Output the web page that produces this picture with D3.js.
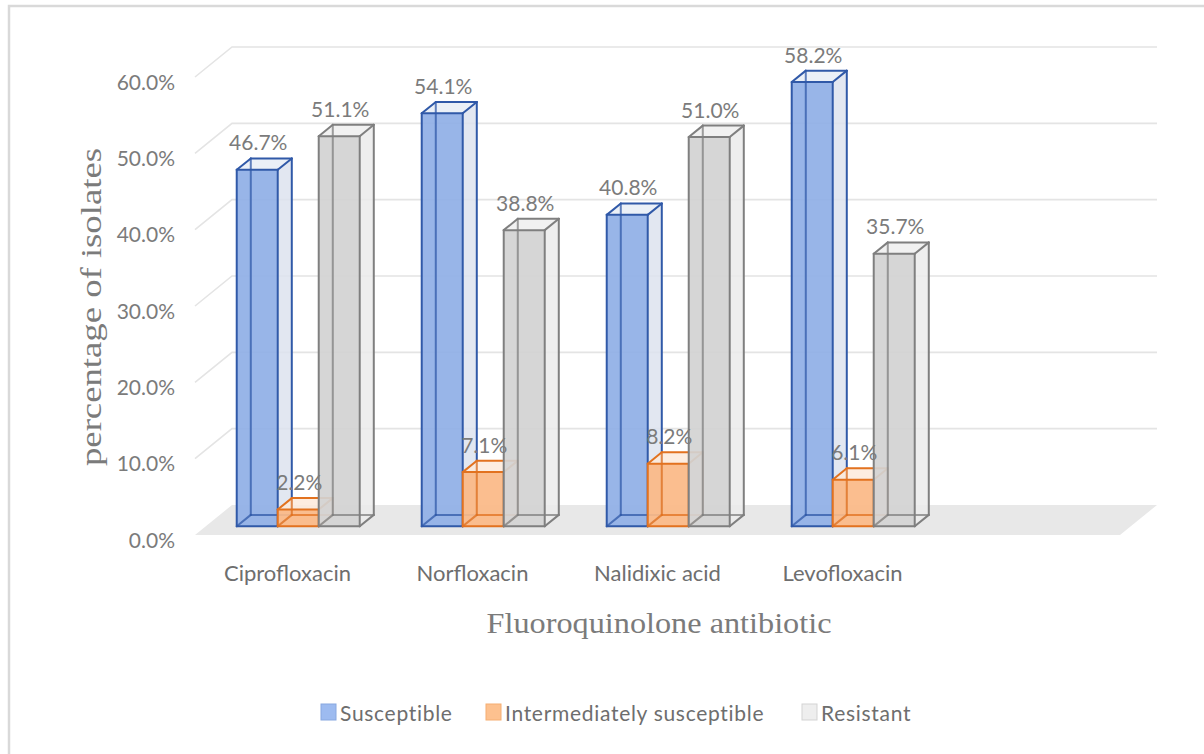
<!DOCTYPE html>
<html><head><meta charset="utf-8">
<script src="https://cdn.jsdelivr.net/npm/d3@7/dist/d3.min.js"></script>
<style>
html,body{margin:0;padding:0;background:#fff;}
svg{display:block;}
</style></head>
<body>
<svg id="chart" width="1204" height="754"></svg>
<script>
const categories = ["Ciprofloxacin", "Norfloxacin", "Nalidixic acid", "Levofloxacin"];
const seriesNames = ["Susceptible", "Intermediately susceptible", "Resistant"];
const susceptible = [46.7, 54.1, 40.8, 58.2];
const intermediate = [2.2, 7.1, 8.2, 6.1];
const resistant = [51.1, 38.8, 51.0, 35.7];
const yTicks = [0, 10, 20, 30, 40, 50, 60];
const yTickLabels = ["0.0%", "10.0%", "20.0%", "30.0%", "40.0%", "50.0%", "60.0%"];

const seriesValues = [susceptible, intermediate, resistant];
const styles = [
  {front:"#8fafe6", side:"#dde3ef", top:"#e8edf6", stroke:"#3059a8", leg:"#9dbbf0", legStroke:"#88a8e0"},
  {front:"#fbb986", side:"#fde3cf", top:"#fdeadb", stroke:"#e2721f", leg:"#fdc18f", legStroke:"#f5ae72"},
  {front:"#d2d2d2", side:"#ebebeb", top:"#efefef", stroke:"#7f7f7f", leg:"#eeeeee", legStroke:"#d3d3d3"}
];

const svg = d3.select("#chart");

// frame
svg.append("rect").attr("x",9).attr("y",6).attr("width",1210).attr("height",760)
  .attr("fill","none").attr("stroke","#d9d9d9").attr("stroke-width",2.5);

// projection
const DX = 37, DY = 30;          // full depth offset
const d0 = 0.29, d1 = 0.67;      // bar depth range
const slots = d3.range(categories.length + 1);
const x = d3.scaleBand().domain(slots).range([195, 1120]).paddingInner(0).paddingOuter(0);
const inner = d3.scaleBand().domain(d3.range(seriesNames.length)).range([31, x.bandwidth() - 31]).padding(0);
const y = d3.scaleLinear().domain([0, 60]).range([535, 77]);
const P = (xf, v, d) => [xf + d * DX, y(v) - d * DY];

const xLeft = x.range()[0], xRight = x.range()[1];

// floor
svg.append("polygon")
  .attr("points", [P(xLeft,0,0), P(xRight,0,0), P(xRight,0,1), P(xLeft,0,1)].map(p=>p.join(",")).join(" "))
  .attr("fill", "#e8e8e8");

// gridlines (side wall + back wall)
const grid = svg.append("g").attr("stroke","#e4e4e4").attr("stroke-width",1.6).attr("fill","none");
yTicks.filter(t => t > 0).forEach(t => {
  const a = P(xLeft, t, 0), b = P(xLeft, t, 1), c = P(xRight, t, 1);
  grid.append("polyline").attr("points", [a,b,c].map(p=>p.join(",")).join(" "));
});

// y tick labels
svg.append("g").selectAll("text").data(yTicks).join("text")
  .attr("x", 175).attr("y", t => y(t) + 4)
  .attr("text-anchor","end").attr("dominant-baseline","central")
  .attr("font-family","Lato").attr("font-size",21).attr("fill","#7b7b7b")
  .text((t,i) => yTickLabels[i]);

// bars
const barsG = svg.append("g");
const labelData = [];
categories.forEach((cat, ci) => {
  seriesValues.forEach((vals, si) => {
    const v = vals[ci];
    const st = styles[si];
    const x0 = x(ci) + inner(si), x1 = x0 + inner.bandwidth();
    const f = { lb:P(x0,0,d0), rb:P(x1,0,d0), rt:P(x1,v,d0), lt:P(x0,v,d0) };
    const b = { lb:P(x0,0,d1), rb:P(x1,0,d1), rt:P(x1,v,d1), lt:P(x0,v,d1) };
    const g = barsG.append("g");
    const poly = (pts, fill, op) => g.append("polygon")
      .attr("points", pts.map(p=>p.join(",")).join(" "))
      .attr("fill", fill).attr("fill-opacity", op).attr("stroke","none");
    poly([f.rb, b.rb, b.rt, f.rt], st.side, 0.85);
    poly([f.lt, f.rt, b.rt, b.lt], st.top, 0.85);
    poly([f.lb, f.rb, f.rt, f.lt], st.front, 0.92);
    const edges = [
      [b.lb,b.rb],[b.lb,b.lt],[f.lb,b.lb],           // hidden
      [b.rb,b.rt],[b.lt,b.rt],[f.rb,b.rb],[f.rt,b.rt],[f.lt,b.lt],
      [f.lb,f.rb],[f.rb,f.rt],[f.rt,f.lt],[f.lt,f.lb]
    ];
    edges.forEach((e, k) => {
      g.append("line").attr("x1",e[0][0]).attr("y1",e[0][1]).attr("x2",e[1][0]).attr("y2",e[1][1])
        .attr("stroke", st.stroke).attr("stroke-width", 2)
        .attr("stroke-opacity", k < 3 ? 0.75 : 1).attr("stroke-linecap","round");
    });
    labelData.push({x:(f.lb[0]+f.rb[0])/2 + 1, y:b.lt[1] - 8, text: v.toFixed(1) + "%"});
  });
});

// value labels
svg.append("g").selectAll("text").data(labelData).join("text")
  .attr("x", d => d.x).attr("y", d => d.y)
  .attr("text-anchor","middle")
  .attr("font-family","Lato").attr("font-size",21).attr("fill","#7b7b7b")
  .text(d => d.text);

// category labels
svg.append("g").selectAll("text").data(categories).join("text")
  .attr("x", (c,i) => x(i) + x.bandwidth()/2).attr("y", 581)
  .attr("text-anchor","middle")
  .attr("font-family","Lato").attr("font-size",22).attr("fill","#6e6e6e")
  .text(c => c);

// axis titles
svg.append("text").attr("x", 659).attr("y", 633).attr("text-anchor","middle")
  .attr("font-family","Liberation Serif").attr("font-size",30).attr("fill","#7b7b7b")
  .attr("textLength",345).attr("lengthAdjust","spacingAndGlyphs")
  .text("Fluoroquinolone antibiotic");
svg.append("text").attr("transform","translate(101,307) rotate(-90)").attr("text-anchor","middle")
  .attr("font-family","Liberation Serif").attr("font-size",29).attr("fill","#7b7b7b")
  .attr("textLength",318).attr("lengthAdjust","spacingAndGlyphs")
  .text("percentage of isolates");

// legend
const legX = [321, 486, 802];
const leg = svg.append("g").selectAll("g").data(seriesNames).join("g")
  .attr("transform", (d,i) => `translate(${legX[i]},704)`);
leg.append("rect").attr("width",15).attr("height",16)
  .attr("fill",(d,i)=>styles[i].leg).attr("stroke",(d,i)=>styles[i].legStroke).attr("stroke-width",1);
leg.append("text").attr("x",19).attr("y",8).attr("dominant-baseline","central")
  .attr("font-family","Lato").attr("font-size",21).attr("fill","#6e6e6e")
  .attr("letter-spacing", 0.7)
  .text(d => d);
</script>
</body></html>
